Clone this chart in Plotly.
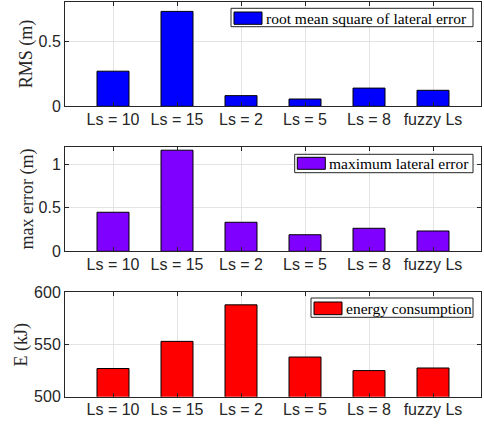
import plotly.graph_objects as go

# ---- data ----
categories = ["Ls = 10", "Ls = 15", "Ls = 2", "Ls = 5", "Ls = 8", "fuzzy Ls"]
rms_error = [0.27, 0.73, 0.082, 0.056, 0.14, 0.123]
max_error = [0.448, 1.16, 0.333, 0.19, 0.264, 0.233]
energy_kj = [527, 553, 588, 538, 525, 527.5]

W, H = 484, 426


def fx(px):
    return px / W


def fy(py):
    return 1 - py / H


AX_COLOR = "#262626"
GRID_COLOR = "#e3e3e3"
TICK_FONT = dict(family="Liberation Sans, Arial, sans-serif", size=16, color=AX_COLOR)
SERIF = "Liberation Serif, Times New Roman, serif"

# pixel layout of the three panels (top, bottom)
panels = [
    dict(top=2.3, bottom=106.3, values=rms_error, color="#0000ff",
         yrange=[0, 0.8], dtick=0.5, title="RMS (m)", title_x=26,
         legend="root mean square of lateral error",
         box=(231, 8.3, 473, 26.7), swatch=(234, 12, 262, 24.3), text_x=264),
    dict(top=146.7, bottom=251.3, values=max_error, color="#7f00ff",
         yrange=[0, 1.2], dtick=0.5, title="max error (m)", title_x=26.5,
         legend="maximum lateral error",
         box=(294.7, 154.3, 473, 172.7), swatch=(297.3, 157.3, 325.3, 169.3), text_x=327),
    dict(top=292.3, bottom=396.7, values=energy_kj, color="#ff0000",
         yrange=[500, 600], dtick=50, title="E (kJ)", title_x=21,
         legend="energy consumption",
         box=(311, 298, 473, 317.3), swatch=(314, 302, 342, 314.7), text_x=344),
]

fig = go.Figure()
shapes = []
annotations = []
layout = dict(
    width=W, height=H,
    margin=dict(l=0, r=0, t=0, b=0, pad=0, autoexpand=False),
    paper_bgcolor="white", plot_bgcolor="white",
    showlegend=False,
    bargap=0.5,
)

for i, p in enumerate(panels, start=1):
    xa = "x" if i == 1 else f"x{i}"
    ya = "y" if i == 1 else f"y{i}"
    fig.add_trace(go.Bar(
        x=categories, y=p["values"], xaxis=xa, yaxis=ya,
        width=0.5,
        marker=dict(color=p["color"], line=dict(color="#000000", width=1)),
        name=p["legend"],
    ))
    common = dict(
        showline=True, linecolor=AX_COLOR, linewidth=1, mirror="allticks",
        ticks="inside", ticklen=4, tickcolor=AX_COLOR, tickwidth=1,
        showgrid=True, gridcolor=GRID_COLOR, gridwidth=1,
        tickfont=TICK_FONT, zeroline=False, fixedrange=True,
        automargin=False,
    )
    layout[f"xaxis{'' if i == 1 else i}"] = dict(
        common, domain=[fx(65), fx(481)], anchor=ya,
        type="category", range=[-0.75, 5.75],
        categoryorder="array", categoryarray=categories,
        ticklabelstandoff=-2,
    )
    layout[f"yaxis{'' if i == 1 else i}"] = dict(
        common, domain=[fy(p["bottom"]), fy(p["top"])], anchor=xa,
        range=p["yrange"], dtick=p["dtick"], tick0=0,
    )
    # axis title
    annotations.append(dict(
        text=p["title"], x=fx(p["title_x"]), y=fy((p["top"] + p["bottom"]) / 2),
        xref="paper", yref="paper", xanchor="center", yanchor="middle",
        textangle=-90, showarrow=False,
        font=dict(family=SERIF, size=18, color=AX_COLOR),
    ))
    # legend box
    x0, y0, x1, y1 = p["box"]
    shapes.append(dict(
        type="rect", xref="paper", yref="paper",
        x0=fx(x0), x1=fx(x1), y0=fy(y1), y1=fy(y0),
        fillcolor="white", line=dict(color=AX_COLOR, width=1), layer="above",
    ))
    sx0, sy0, sx1, sy1 = p["swatch"]
    shapes.append(dict(
        type="rect", xref="paper", yref="paper",
        x0=fx(sx0), x1=fx(sx1), y0=fy(sy1), y1=fy(sy0),
        fillcolor=p["color"], line=dict(color="#000000", width=1), layer="above",
    ))
    annotations.append(dict(
        text=p["legend"], x=fx(p["text_x"]), y=fy((sy0 + sy1) / 2),
        xref="paper", yref="paper", xanchor="left", yanchor="middle",
        showarrow=False,
        font=dict(family=SERIF, size=15.5, color="#000000"),
    ))

layout["shapes"] = shapes
layout["annotations"] = annotations
fig.update_layout(**layout)

# page without the default body margin so the figure fills the window exactly
fig.write_html(
    "out.html",
    config={"displayModeBar": False},
    post_script="document.body.style.margin='0';document.body.style.overflow='hidden';",
)
